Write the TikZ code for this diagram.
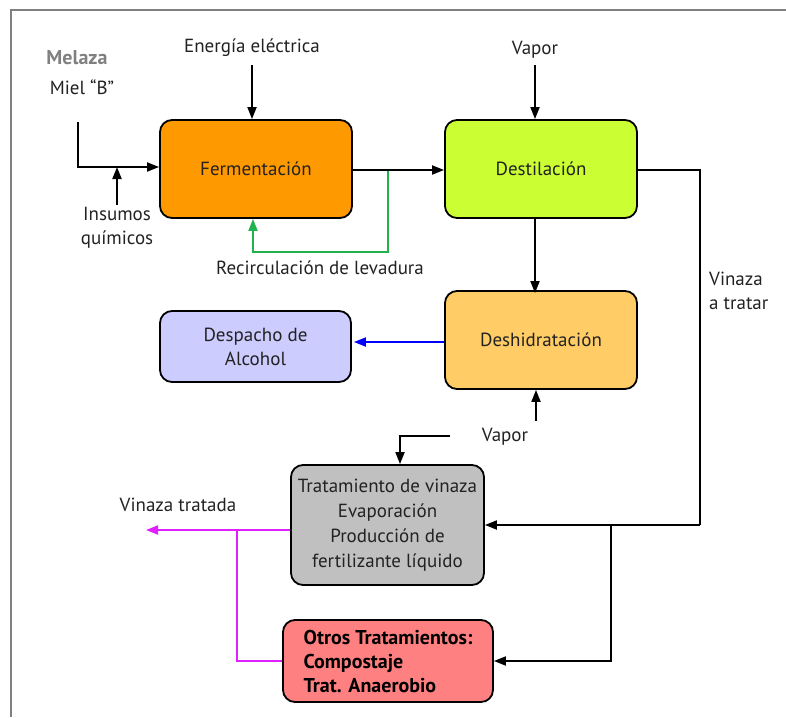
\documentclass[tikz,border=0pt]{standalone}
\usepackage{fontspec}
\setmainfont{PT Sans}
\usetikzlibrary{arrows.meta}
\definecolor{cferm}{HTML}{FF9900}
\definecolor{cdest}{HTML}{CCFF33}
\definecolor{cdesh}{HTML}{FFCC66}
\definecolor{cdesp}{HTML}{CCCCFF}
\definecolor{ctrat}{HTML}{C0C0C0}
\definecolor{cotro}{HTML}{FF8080}
\definecolor{cgreen}{HTML}{22B14C}
\definecolor{cmag}{HTML}{E020FF}
\definecolor{cframe}{HTML}{808080}
\definecolor{ctext}{HTML}{222222}
\begin{document}
\begin{tikzpicture}[x=1pt,y=-1pt,
  box/.style={draw=black,line width=1.8pt,rounded corners=12pt,align=center,inner sep=0pt,text=ctext,font=\fontsize{19}{24}\selectfont},
  lbl/.style={align=center,inner sep=0pt,text=ctext,font=\fontsize{19}{24}\selectfont},
  conn/.style={line width=1.8pt,-{Triangle[length=12pt,width=9pt]}},
  plain/.style={line width=1.8pt}]
\useasboundingbox (0,0) rectangle (786,717);
\draw[cframe,line width=2.5pt] (11,717) -- (11,10) -- (786,10);

\node[box,fill=cferm,minimum width=192pt,minimum height=98pt] (ferm) at (256,169) {Fermentación};
\node[box,fill=cdest,minimum width=192pt,minimum height=98pt] (dest) at (541,169) {Destilación};
\node[box,fill=cdesh,minimum width=192pt,minimum height=98pt] (desh) at (541,340) {Deshidratación};
\node[box,fill=cdesp,minimum width=191pt,minimum height=71pt] (desp) at (255.5,346.5) {Despacho de\\Alcohol};
\node[box,fill=ctrat,minimum width=193pt,minimum height=120pt,font=\fontsize{19}{25}\selectfont] (trat) at (387.5,525) {Tratamiento de vinaza\\Evaporación\\Producción de\\fertilizante líquido};
\node[box,fill=cotro,minimum width=210pt,minimum height=82pt,align=left,text=black,font=\bfseries\fontsize{20}{24}\selectfont] (otro) at (388,661) {Otros Tratamientos:\\Compostaje\\Trat. Anaerobio};

% labels
\node[lbl,text=cframe,font=\bfseries\fontsize{20}{24}\selectfont] (melaza) at (77,58) {Melaza};
\node[lbl] (miel) at (82,87) {Miel “B”};
\node[lbl] (energ) at (252,48) {Energía eléctrica};
\node[lbl] (insum) at (117,228) {Insumos\\químicos};
\node[lbl] (recirc) at (320,268) {Recirculación de levadura};
\node[lbl] (vap1) at (535,50) {Vapor};
\node[lbl,align=left,anchor=west] (vinz) at (709,291) {Vinaza\\a tratar};
\node[lbl] (vap2) at (505,437) {Vapor};
\node[lbl] (vtrat) at (178,505) {Vinaza tratada};

% coordinates
\coordinate (mtop) at (78,122);
\coordinate (mcorner) at (78,167);
\coordinate (ibot) at (117,205);
\coordinate (itop) at (117,167);
\coordinate (etop) at (252,65);
\coordinate (vtop) at (535,65);
\coordinate (dright) at (700,170);
\coordinate (dbend) at (700,525);
\coordinate (br) at (611,525);
\coordinate (brb) at (611,661);
\coordinate (gsplit) at (388,170);
\coordinate (gbot) at (388,252);
\coordinate (gleft) at (253,252);
\coordinate (v2bot) at (536,421);
\coordinate (v3a) at (450,436);
\coordinate (v3b) at (400,436);
\coordinate (vout) at (146,530);
\coordinate (mbr) at (237,530);
\coordinate (mbb) at (237,661);

% connectors
\draw[conn] (mtop) -- (mcorner) -- (ferm.west |- mcorner);
\draw[conn] (ibot) -- (itop);
\draw[conn] (etop) -- (ferm.north -| etop);
\draw[cgreen,conn] (gsplit) -- (gbot) -- (gleft) -- (ferm.south -| gleft);
\draw[conn] (ferm.east |- gsplit) -- (dest.west |- gsplit);
\draw[conn] (vtop) -- (dest.north -| vtop);
\draw[conn] (dest.south -| vtop) -- ([yshift=-3pt]desh.north -| vtop);
\draw[plain] (dest.east |- dright) -- (dright) -- (dbend);
\draw[conn] (dbend) -- (trat.east |- dbend);
\draw[conn] (br) -- (brb) -- (otro.east |- brb);
\draw[blue,conn] (desh.west |- 0,342) -- ([xshift=2pt]desp.east |- 0,342);
\draw[conn] (v2bot) -- (desh.south -| v2bot);
\draw[conn] (v3a) -- (v3b) -- (trat.north -| v3b);
\draw[cmag,conn] (trat.west |- vout) -- (vout);
\draw[cmag,plain] (mbr) -- (mbb) -- (otro.west |- mbb);
\end{tikzpicture}
\end{document}
